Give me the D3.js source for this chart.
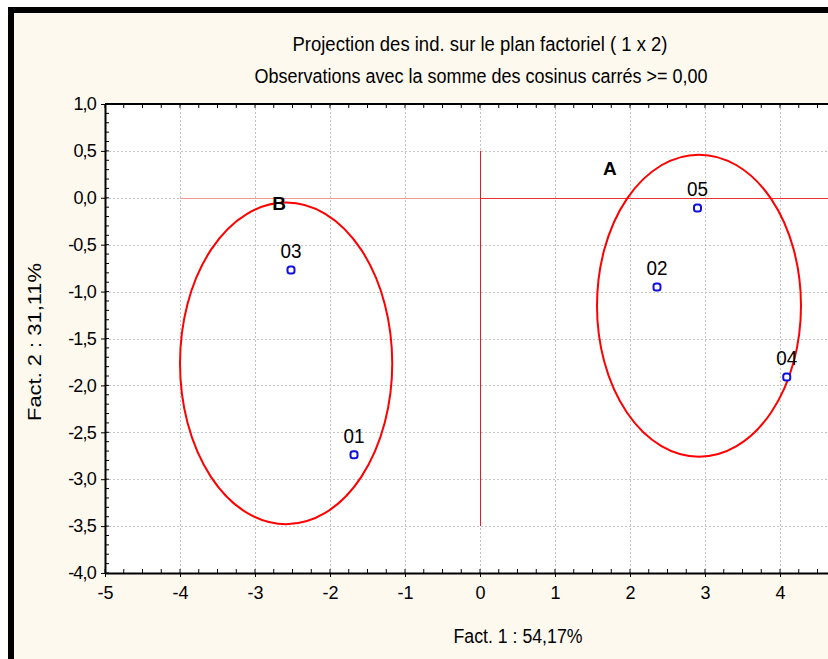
<!DOCTYPE html>
<html>
<head>
<meta charset="utf-8">
<script src="https://cdn.jsdelivr.net/npm/d3@7/dist/d3.min.js"></script>
<style>
  html, body { margin: 0; padding: 0; background: #ffffff; }
  svg { display: block; font-family: "Liberation Sans", Arial, sans-serif; }
</style>
</head>
<body>
<svg id="chart" width="828" height="659"></svg>
<script>
// ---- data ----
const obsLabels = ["01", "02", "03", "04", "05"];
const fact1 = [-1.68, 2.36, -2.52, 4.09, 2.90];
const fact2 = [-2.74, -0.95, -0.77, -1.91, -0.11];

const groupNames = ["A", "B"];
const groupCx = [2.92, -2.585];
const groupCy = [-1.15, -1.765];
const groupRx = [1.36, 1.415];
const groupRy = [1.61, 1.715];
const groupLabelX = [1.64, -2.77];
const groupLabelY = [0.245, -0.13];

const xTicks = [-5, -4, -3, -2, -1, 0, 1, 2, 3, 4];
const yTicks = [1.0, 0.5, 0.0, -0.5, -1.0, -1.5, -2.0, -2.5, -3.0, -3.5, -4.0];

const title1 = "Projection des ind. sur le plan factoriel (  1 x   2)";
const title2 = "Observations avec la somme des cosinus carrés >=  0,00";
const xLabel = "Fact. 1 : 54,17%";
const yLabel = "Fact. 2 : 31,11%";

// ---- layout ----
const svg = d3.select("#chart");
const W = 828, H = 659;
const plot = { left: 105, right: 855, top: 104, bottom: 573 };

svg.append("rect").attr("x", 0).attr("y", 0).attr("width", W).attr("height", H).attr("fill", "#ffffff");
svg.append("rect").attr("x", 8).attr("y", 7).attr("width", W - 8).attr("height", H - 7).attr("fill", "#000000");
svg.append("rect").attr("x", 14).attr("y", 13).attr("width", W - 14).attr("height", H - 13).attr("fill", "#fdf9ef");

const x = d3.scaleLinear().domain([-5, 5]).range([plot.left, plot.right]);
const y = d3.scaleLinear().domain([-4, 1]).range([plot.bottom, plot.top]);

svg.append("defs").append("clipPath").attr("id", "clip")
  .append("rect").attr("x", plot.left).attr("y", plot.top)
  .attr("width", plot.right - plot.left).attr("height", plot.bottom - plot.top);

svg.append("rect").attr("x", plot.left).attr("y", plot.top)
  .attr("width", plot.right - plot.left).attr("height", plot.bottom - plot.top)
  .attr("fill", "#ffffff");

const g = svg.append("g").attr("clip-path", "url(#clip)");

// grid
g.selectAll("line.gx").data(xTicks.filter(d => d > -5)).enter().append("line")
  .attr("x1", d => Math.round(x(d)) + 0.5).attr("x2", d => Math.round(x(d)) + 0.5)
  .attr("y1", plot.top).attr("y2", plot.bottom)
  .attr("stroke", "#c4c4c4").attr("stroke-width", 1).attr("stroke-dasharray", "2,2");
g.selectAll("line.gy").data(yTicks.filter(d => d > -4)).enter().append("line")
  .attr("y1", d => Math.round(y(d)) + 0.5).attr("y2", d => Math.round(y(d)) + 0.5)
  .attr("x1", plot.left).attr("x2", plot.right)
  .attr("stroke", "#c4c4c4").attr("stroke-width", 1).attr("stroke-dasharray", "2,2");

// reference lines
g.append("line").attr("x1", x(-4)).attr("x2", x(0))
  .attr("y1", Math.round(y(0)) + 0.5).attr("y2", Math.round(y(0)) + 0.5)
  .attr("stroke", "#f29a9a").attr("stroke-width", 1);
g.append("line").attr("x1", x(0)).attr("x2", plot.right)
  .attr("y1", Math.round(y(0)) + 0.5).attr("y2", Math.round(y(0)) + 0.5)
  .attr("stroke", "#ee3030").attr("stroke-width", 1);
g.append("line").attr("x1", Math.round(x(0)) + 0.5).attr("x2", Math.round(x(0)) + 0.5)
  .attr("y1", y(0.5)).attr("y2", y(-3.5))
  .attr("stroke", "#dd1f1f").attr("stroke-width", 1);

// ellipses
g.selectAll("ellipse.grp").data(groupNames).enter().append("ellipse")
  .attr("cx", (d, i) => x(groupCx[i]))
  .attr("cy", (d, i) => y(groupCy[i]))
  .attr("rx", (d, i) => x(groupCx[i] + groupRx[i]) - x(groupCx[i]))
  .attr("ry", (d, i) => y(groupCy[i] - groupRy[i]) - y(groupCy[i]))
  .attr("fill", "none").attr("stroke", "#ff0000").attr("stroke-width", 2);

g.selectAll("text.grp").data(groupNames).enter().append("text")
  .attr("x", (d, i) => x(groupLabelX[i]))
  .attr("y", (d, i) => y(groupLabelY[i]))
  .attr("font-size", 19).attr("font-weight", "bold").attr("fill", "#000")
  .text(d => d);

// points
g.selectAll("rect.pt").data(obsLabels).enter().append("rect")
  .attr("x", (d, i) => x(fact1[i]) - 3.5).attr("y", (d, i) => y(fact2[i]) - 3.5)
  .attr("width", 7).attr("height", 7).attr("rx", 2.5)
  .attr("fill", "#ffffff").attr("stroke", "#1010dd").attr("stroke-width", 2);
g.selectAll("text.pt").data(obsLabels).enter().append("text")
  .attr("x", (d, i) => x(fact1[i]))
  .attr("y", (d, i) => y(fact2[i]) - 12)
  .attr("text-anchor", "middle").attr("font-size", 20)
  .attr("textLength", 21).attr("lengthAdjust", "spacingAndGlyphs").attr("fill", "#000")
  .text(d => d);

// axes
const fmt = d3.format(".1f");
const fmtY = d => fmt(d).replace(".", ",").replace("−", "-");
const fmtX = d => String(d).replace("−", "-");

const axisG = svg.append("g");
// bottom
const minorX = d3.range(-5, 5.001, 0.25);
axisG.selectAll("line.mx").data(minorX).enter().append("line")
  .attr("x1", d => x(d)).attr("x2", d => x(d))
  .attr("y1", plot.bottom - 4).attr("y2", plot.bottom)
  .attr("stroke", "#000").attr("stroke-width", 1);
axisG.selectAll("line.mxt").data(minorX).enter().append("line")
  .attr("x1", d => x(d)).attr("x2", d => x(d))
  .attr("y1", plot.top).attr("y2", plot.top + 4)
  .attr("stroke", "#000").attr("stroke-width", 1);
const bottomAxis = d3.axisBottom(x).tickValues(xTicks).tickFormat(fmtX).tickSizeInner(4).tickSizeOuter(0).tickPadding(9);
const bx = axisG.append("g").attr("transform", `translate(0,${plot.bottom})`).call(bottomAxis);
bx.select(".domain").attr("stroke-width", 2);
bx.selectAll("text").attr("font-size", 18).attr("font-family", "Liberation Sans, Arial, sans-serif").attr("fill", "#000");

// top frame line
axisG.append("line").attr("x1", plot.left).attr("x2", W).attr("y1", plot.top).attr("y2", plot.top)
  .attr("stroke", "#000").attr("stroke-width", 2);

// left
const minorY = d3.range(-40, 10.001, 1).map(d => d / 10);
axisG.selectAll("line.my").data(minorY).enter().append("line")
  .attr("x1", plot.left).attr("x2", plot.left + 4)
  .attr("y1", d => y(d)).attr("y2", d => y(d))
  .attr("stroke", "#000").attr("stroke-width", 1);
const leftAxis = d3.axisLeft(y).tickValues(yTicks).tickFormat(fmtY).tickSizeInner(4).tickSizeOuter(0).tickPadding(5);
const ly = axisG.append("g").attr("transform", `translate(${plot.left},0)`).call(leftAxis);
ly.select(".domain").attr("stroke-width", 2);
ly.selectAll("text").attr("font-size", 18).attr("font-family", "Liberation Sans, Arial, sans-serif").attr("fill", "#000").attr("letter-spacing", -0.8);

// titles
svg.append("text").attr("x", 480).attr("y", 51).attr("text-anchor", "middle")
  .attr("font-size", 20).attr("textLength", 375).attr("lengthAdjust", "spacingAndGlyphs").text(title1);
svg.append("text").attr("x", 481).attr("y", 83).attr("text-anchor", "middle")
  .attr("font-size", 20).attr("textLength", 453).attr("lengthAdjust", "spacingAndGlyphs").text(title2);

svg.append("text").attr("x", 518).attr("y", 643).attr("text-anchor", "middle")
  .attr("font-size", 19.5).attr("textLength", 129).attr("lengthAdjust", "spacingAndGlyphs").text(xLabel);
svg.append("text").attr("transform", "translate(41,342) rotate(-90)").attr("text-anchor", "middle")
  .attr("font-size", 19).attr("textLength", 158).attr("lengthAdjust", "spacingAndGlyphs").text(yLabel);
</script>
</body>
</html>
